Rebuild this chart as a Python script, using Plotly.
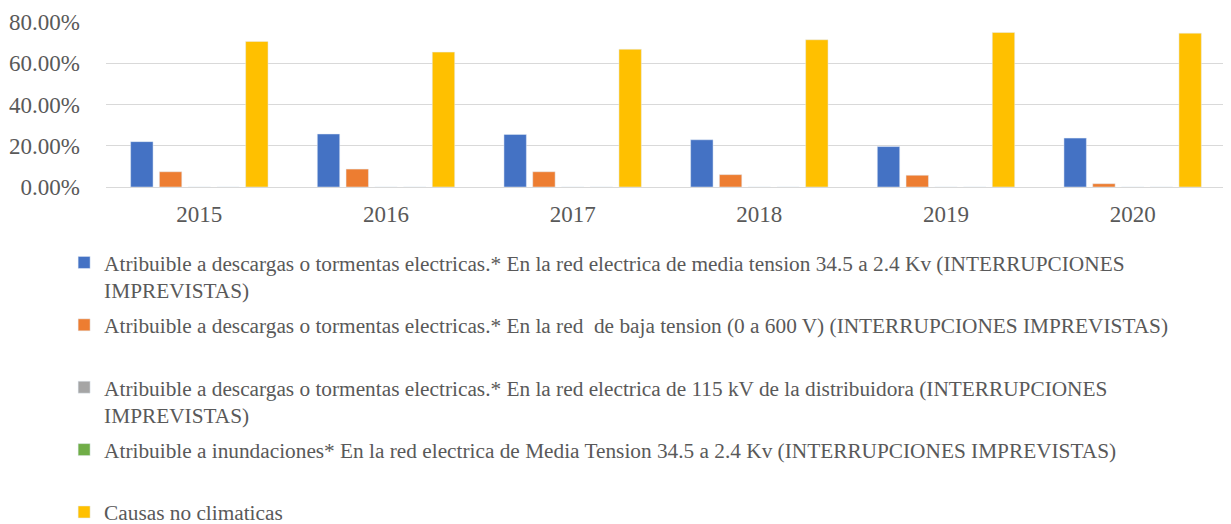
import plotly.graph_objects as go

years = ["2015", "2016", "2017", "2018", "2019", "2020"]

s_media = [0.220, 0.257, 0.255, 0.229, 0.196, 0.237]
s_baja = [0.074, 0.087, 0.074, 0.060, 0.057, 0.016]
s_115 = [0, 0, 0, 0, 0, 0]
s_inund = [0, 0, 0, 0, 0, 0]
s_noclim = [0.706, 0.654, 0.668, 0.714, 0.749, 0.746]

names = [
    "Atribuible a descargas o tormentas electricas.* En la red electrica de media tension 34.5 a 2.4 Kv (INTERRUPCIONES<br>IMPREVISTAS)",
    "Atribuible a descargas o tormentas electricas.* En la red  de baja tension (0 a 600 V) (INTERRUPCIONES IMPREVISTAS)<br> ",
    "Atribuible a descargas o tormentas electricas.* En la red electrica de 115 kV de la distribuidora (INTERRUPCIONES<br>IMPREVISTAS)",
    "Atribuible a inundaciones* En la red electrica de Media Tension 34.5 a 2.4 Kv (INTERRUPCIONES IMPREVISTAS)<br> ",
    "Causas no climaticas",
]
colors = ["#4472C4", "#ED7D31", "#A5A5A5", "#70AD47", "#FFC000"]
series = [s_media, s_baja, s_115, s_inund, s_noclim]

fig = go.Figure()
for i, (nm, col, vals) in enumerate(zip(names, colors, series)):
    fig.add_trace(go.Bar(
        x=years, y=vals, name=nm, marker_color=col,
        legendgroup=f"g{i}",
    ))

font_family = "Liberation Serif, Times New Roman, serif"
# page body has an 8px default margin, so the figure is sized/offset for it
fig.update_layout(
    width=1223, height=516,
    margin=dict(l=98, r=5, t=13.5, b=337.3, autoexpand=False),
    paper_bgcolor="white", plot_bgcolor="white",
    barmode="group", bargap=0.23, bargroupgap=0.22,
    font=dict(family=font_family, color="#595959"),
    showlegend=True,
    legend=dict(
        orientation="v", x=-0.0374, xanchor="left", y=-0.334, yanchor="top",
        font=dict(size=21.3, family=font_family, color="#595959"),
        valign="top", tracegroupgap=4, traceorder="grouped",
        maxheight=400, bgcolor="rgba(0,0,0,0)",
    ),
    xaxis=dict(
        type="category", showgrid=False, showline=False, ticks="",
        tickfont=dict(size=23, family=font_family, color="#595959"),
        ticklabelstandoff=11,
    ),
    yaxis=dict(
        range=[0, 0.8], tickvals=[0, 0.2, 0.4, 0.6, 0.8], tickformat=".2%",
        showgrid=True, gridcolor="#D9D9D9", gridwidth=1.3,
        zeroline=True, zerolinecolor="#D9D9D9", zerolinewidth=1.3,
        showline=False, ticks="",
        tickfont=dict(size=23, family=font_family, color="#595959"),
        ticklabelstandoff=25,
    ),
)

fig.write_html("out.html")
